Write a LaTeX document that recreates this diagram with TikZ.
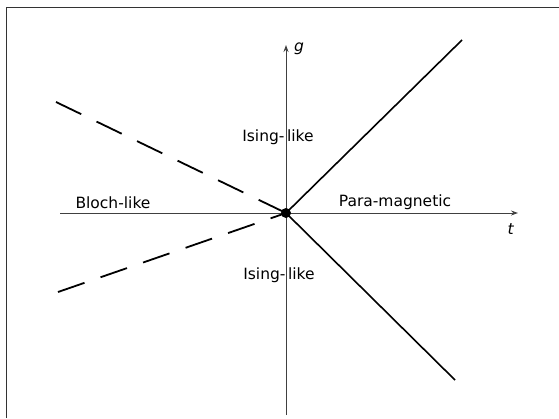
\documentclass[tikz,border=0pt]{standalone}
\usepackage{fontspec}
\setmainfont{DejaVu Sans}
\usetikzlibrary{arrows.meta}

\begin{document}
\begin{tikzpicture}[x=1pt, y=-1pt,
    every node/.style={font=\fontsize{15.5}{18}\selectfont, inner sep=0pt},
    axis/.style={line width=0.9pt, black!75, -{Stealth[length=7pt, width=5pt]}},
    phaseline/.style={line width=1.6pt, black},
    crossline/.style={line width=1.8pt, black, dash pattern=on 28pt off 17pt}]

    \useasboundingbox (0,0) rectangle (559,418);

    % --- frame (top and left edges only) ---
    \draw[line width=1pt, black!80] (6,418) -- (6,7) -- (559,7);

    % --- axes ---
    \coordinate (tstart) at (60,213);
    \coordinate (tend) at (518,213);
    \coordinate (gstart) at (286,415);
    \coordinate (gend) at (286,45);
    \draw[axis] (tstart) -- (tend);
    \draw[axis] (gstart) -- (gend);
    \node (glabel) at (299,49) {\textit{g}};
    \node (tlabel) at (511,229) {\textit{t}};

    % --- critical point ---
    \coordinate (crit) at (286,213);
    \fill (crit) circle (5pt);

    % --- phase boundaries ---
    \coordinate (upend) at (462,40);
    \coordinate (downend) at (455,380);
    \draw[phaseline] (crit) -- (upend);
    \draw[phaseline] (crit) -- (downend);

    % --- crossover lines ---
    \coordinate (dashup) at (56,102);
    \coordinate (dashdown) at (58,292);
    \draw[crossline] (dashup) -- (crit);
    \draw[crossline] (dashdown) -- (crit);

    % --- region labels ---
    \node (isingup) at (278,137) {Ising-\,like};
    \node (isingdown) at (279,275) {Ising-\,like};
    \node (bloch) at (113,203) {Bloch-like};
    \node (para) at (395,202) {Para-magnetic};

\end{tikzpicture}
\end{document}
